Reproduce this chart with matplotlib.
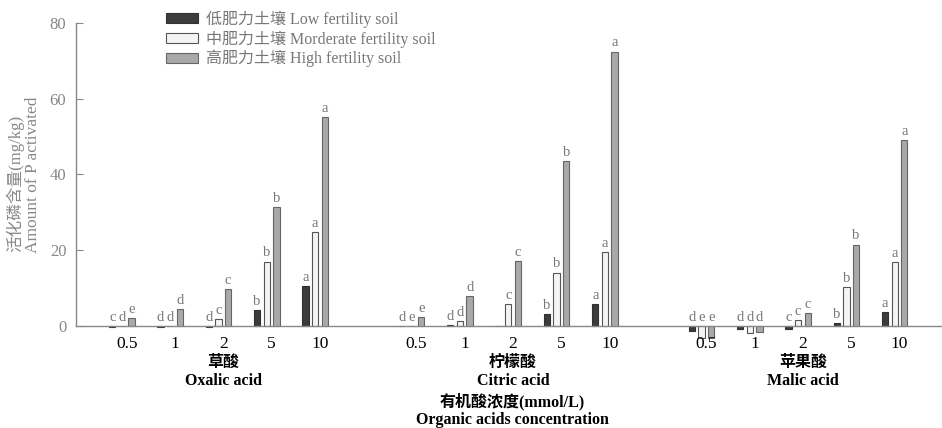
import numpy as np
import matplotlib
matplotlib.use("Agg")
import matplotlib.pyplot as plt
from matplotlib.patches import Patch

SERIF = ["Liberation Serif", "Noto Sans CJK SC", "DejaVu Sans"]
plt.rcParams["font.family"] = SERIF

concs = ["0.5", "1", "2", "5", "10"]
acids_cn = ["草酸", "柠檬酸", "苹果酸"]
acids_en = ["Oxalic acid", "Citric acid", "Malic acid"]
series = ["低肥力土壤 Low fertility soil",
          "中肥力土壤 Morderate fertility soil",
          "高肥力土壤 High fertility soil"]

# values per acid (oxalic, citric, malic), 5 concentrations each
low = [-0.3, -0.3, -0.2, 4.2, 10.6,
       0.1, 0.3, 0.0, 3.1, 5.9,
       -1.2, -0.8, -0.9, 0.7, 3.7]
mod = [0.1, 0.1, 1.9, 17.0, 24.9,
       0.1, 1.3, 5.7, 14.1, 19.6,
       -3.1, -1.8, 1.6, 10.4, 16.9]
high = [2.0, 4.4, 9.7, 31.3, 55.1,
        2.4, 8.0, 17.2, 43.5, 72.4,
        -3.2, -1.7, 3.5, 21.5, 49.1]

let_low = ["c", "d", "d", "b", "a", "d", "d", "", "b", "a", "d", "d", "c", "b", "a"]
let_mod = ["d", "d", "c", "b", "a", "e", "d", "c", "b", "a", "e", "d", "c", "b", "a"]
let_high = ["e", "d", "c", "b", "a", "e", "d", "c", "b", "a", "e", "d", "c", "b", "a"]

W, H = 942, 428
fig = plt.figure(figsize=(W / 100, H / 100), dpi=100)
ax_l, ax_r, ax_top, ax_bot = 76, 942, 18.9, 341.2
ax = fig.add_axes([ax_l / W, 1 - ax_bot / H, (ax_r - ax_l) / W, (ax_bot - ax_top) / H])

# x positions: 5 slots per acid, one empty slot between acids
pos = np.array([g * 6 + i for g in range(3) for i in range(5)], dtype=float)

styles = [
    dict(facecolor="#3c3c3c", edgecolor="#303030"),
    dict(facecolor="#f4f4f4", edgecolor="#555555"),
    dict(facecolor="#a9a9a9", edgecolor="#666666"),
]
offs = [-0.2, 0.0, 0.2]
bw = 0.13
gray = "#777777"

for vals, lets, st, off in zip([low, mod, high], [let_low, let_mod, let_high], styles, offs):
    ax.bar(pos + off, vals, width=bw, linewidth=0.8, **st)
    for x, v, t in zip(pos + off, vals, lets):
        if t:
            ax.annotate(t, (x, max(v, 0)), xytext=(0, 1.5), textcoords="offset points",
                        ha="center", va="bottom", fontsize=10.5, color=gray)

ax.set_xlim(-0.95, 16.98)
ax.set_ylim(-4, 81)
ax.set_yticks([0, 20, 40, 60, 80])
ax.tick_params(axis="y", direction="in", length=5, colors="#888888", labelsize=12,
               labelcolor="#888888", pad=7)
ax.set_xticks(pos + 0.1)
ax.tick_params(axis="x", length=0, pad=7, labelsize=12.5)
ax.set_xticklabels(concs * 3, fontweight="bold")

for s in ["top", "right"]:
    ax.spines[s].set_visible(False)
ax.spines["bottom"].set_position(("data", 0))
ax.spines["left"].set_bounds(0, 80)
for s in ["left", "bottom"]:
    ax.spines[s].set_color("#888888")
    ax.spines[s].set_linewidth(1.0)


def fy(py):
    return 1 - py / H


for g in range(3):
    cx = (ax.transData.transform((g * 6 + 2.1, 0))[0]) / W
    fig.text(cx, fy(363), acids_cn[g], ha="center", va="center", fontsize=11.5,
             fontweight="bold")
    fig.text(cx, fy(381), acids_en[g], ha="center", va="center", fontsize=11.5,
             fontweight="bold")

fig.text(512 / W, fy(402), "有机酸浓度(mmol/L)", ha="center", va="center",
         fontsize=11.5, fontweight="bold")
fig.text(512 / W, fy(420), "Organic acids concentration", ha="center", va="center",
         fontsize=11.5, fontweight="bold")

fig.text(15 / W, fy(183), "活化磷含量(mg/kg)", rotation=90, ha="center", va="center",
         fontsize=12, color="#888888")
fig.text(33 / W, fy(175), "Amount of P activated", rotation=90, ha="center", va="center",
         fontsize=12.5, color="#888888")

handles = [Patch(linewidth=0.8, **st) for st in styles]
leg = fig.legend(handles, series, loc="upper left", bbox_to_anchor=(160 / W, fy(4)),
                 frameon=False, fontsize=11.5, handlelength=2.0, handleheight=0.6,
                 handletextpad=0.5, labelspacing=0.15, borderaxespad=0)
for t in leg.get_texts():
    t.set_color("#777777")

fig.savefig("out.png", dpi=100)
